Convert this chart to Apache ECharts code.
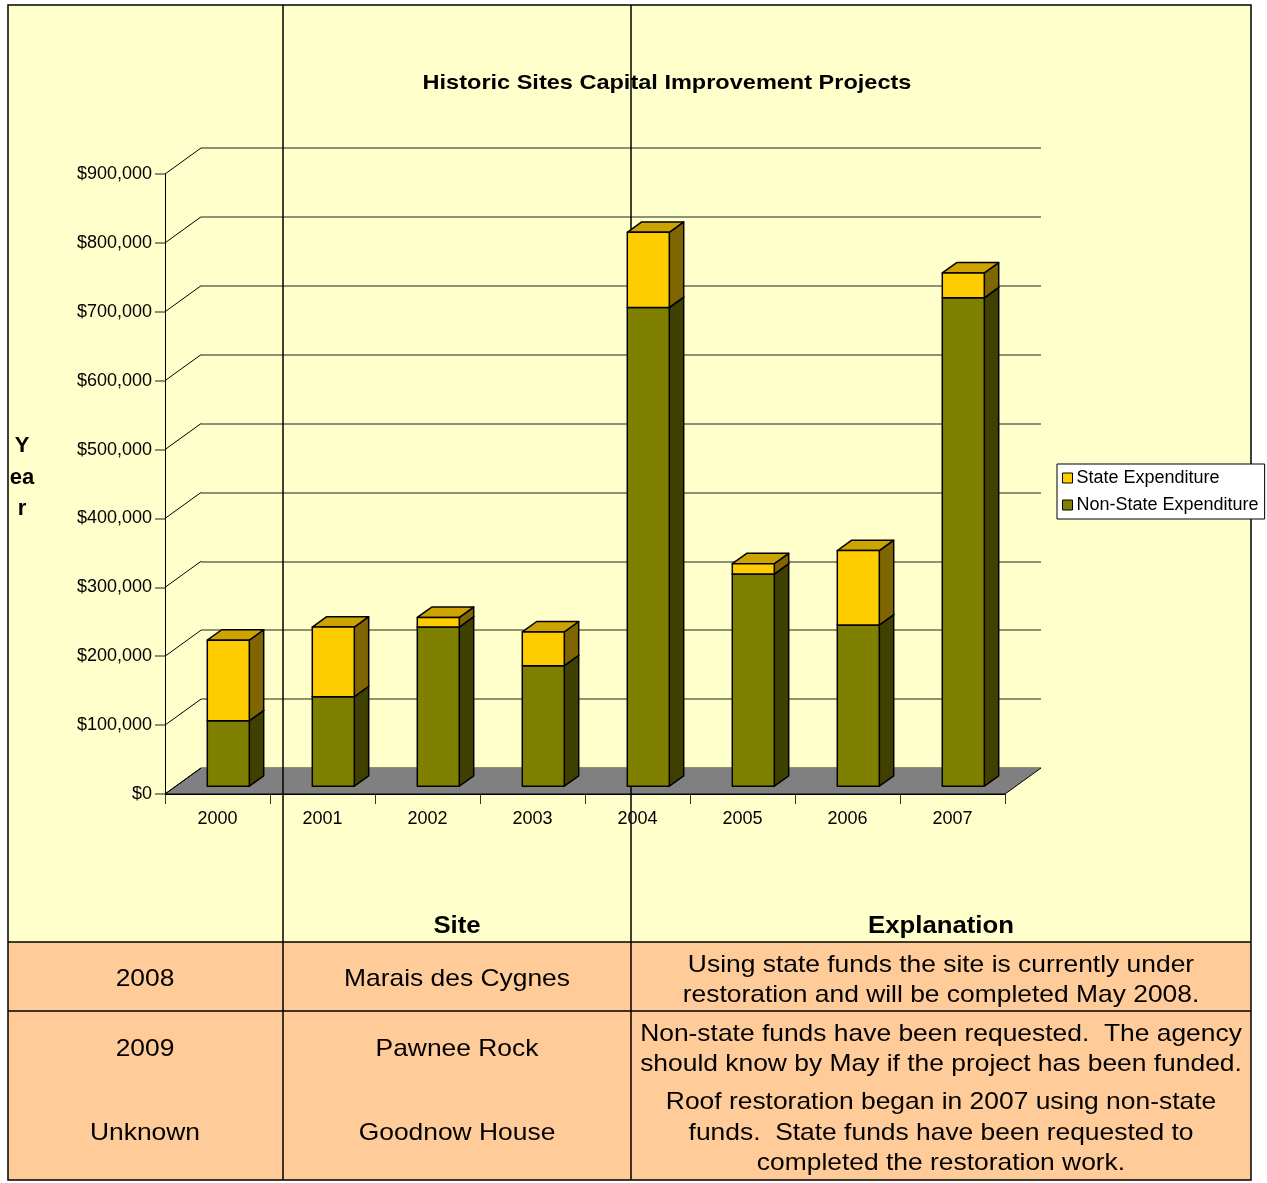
<!DOCTYPE html>
<html>
<head>
<meta charset="utf-8">
<script src="https://cdn.jsdelivr.net/npm/echarts@6/dist/echarts.min.js"></script>
<style>
  html, body { margin: 0; padding: 0; background: #fff; }
  #chart { width: 1267px; height: 1183px; }
</style>
</head>
<body>
<div id="chart"></div>
<script>
// chart data
const years = ["2000", "2001", "2002", "2003", "2004", "2005", "2006", "2007"];
const nonStateExp = [95000, 130000, 231000, 175000, 695000, 308000, 234000, 709000];
const stateExp = [117000, 101000, 14000, 49000, 109000, 15000, 108000, 36000];
const yTicks = [0, 100000, 200000, 300000, 400000, 500000, 600000, 700000, 800000, 900000];

// table below the chart
const tableHeaders = ["Site", "Explanation"];
const tableYears = ["2008", "2009", "Unknown"];
const tableSites = ["Marais des Cygnes", "Pawnee Rock", "Goodnow House"];
const tableNotes = [
  ["Using state funds the site is currently under", "restoration and will be completed May 2008."],
  ["Non-state funds have been requested.  The agency", "should know by May if the project has been funded."],
  ["Roof restoration began in 2007 using non-state", "funds.  State funds have been requested to", "completed the restoration work."],
];

const FONT = "'Liberation Sans', Arial, sans-serif";
// 3d depth of the plot (pixels) and where the bars sit in that depth
const DX = 36, DY = -26;
const D0 = 0.3, D1 = 0.7;
const BAR_RATIO = 0.4;

const chart = echarts.init(document.getElementById("chart"));

function money(v) {
  return "$" + String(v).replace(/\B(?=(\d{3})+(?!\d))/g, ",");
}

function barRender(front, top, side) {
  return function (params, api) {
    const i = api.value(0);
    const lo = api.value(1);
    const hi = api.value(2);
    const w = api.size([1, 0])[0] * BAR_RATIO;
    const b = api.coord([i, lo]);
    const t = api.coord([i, hi]);
    const dx = DX * (D1 - D0), dy = DY * (D1 - D0);
    const xl = b[0] - w / 2 + DX * D0;
    const xr = xl + w;
    const yb = b[1] + DY * D0;
    const yt = t[1] + DY * D0;
    const line = { stroke: "#000", lineWidth: 1.5, lineJoin: "round" };
    return {
      type: "group",
      children: [
        { type: "polygon", shape: { points: [[xr, yt], [xr, yb], [xr + dx, yb + dy], [xr + dx, yt + dy]] },
          style: Object.assign({ fill: side }, line) },
        { type: "polygon", shape: { points: [[xl, yt], [xr, yt], [xr + dx, yt + dy], [xl + dx, yt + dy]] },
          style: Object.assign({ fill: top }, line) },
        { type: "rect", shape: { x: xl, y: yt, width: w, height: yb - yt },
          style: Object.assign({ fill: front }, line) },
      ],
    };
  };
}

function txt(x, y, s, size, bold, sx) {
  return {
    type: "text", x: x, y: y + 2, z: 2, scaleX: sx || 1, silent: true,
    style: {
      text: s, x: 0, y: 0, fill: "#000",
      font: (bold ? "bold " : "") + size + "px " + FONT,
      textAlign: "center", align: "center",
      textVerticalAlign: "middle", verticalAlign: "middle",
    },
  };
}

function hline(x1, x2, y) {
  return { type: "line", z: 2, silent: true, shape: { x1: x1, y1: y, x2: x2, y2: y }, style: { stroke: "#000", lineWidth: 1.5 } };
}
function vline(x, y1, y2) {
  return { type: "line", z: 2, silent: true, shape: { x1: x, y1: y1, x2: x, y2: y2 }, style: { stroke: "#000", lineWidth: 1.5 } };
}

// graphic: page margins, table, title, side text
const graphics = [
  { type: "rect", z: 2, silent: true, shape: { x: 0, y: 0, width: 1267, height: 5 }, style: { fill: "#fff" } },
  { type: "rect", z: 2, silent: true, shape: { x: 0, y: 0, width: 8, height: 1183 }, style: { fill: "#fff" } },
  { type: "rect", z: 2, silent: true, shape: { x: 1251, y: 0, width: 16, height: 1183 }, style: { fill: "#fff" } },
  { type: "rect", z: 2, silent: true, shape: { x: 0, y: 1180, width: 1267, height: 3 }, style: { fill: "#fff" } },
  { type: "rect", z: 2, silent: true, shape: { x: 8, y: 942, width: 1243, height: 238 }, style: { fill: "#FFCC99" } },
  txt(667, 81, "Historic Sites Capital Improvement Projects", 21, true, 1.12),
  txt(22, 444, "Y", 22, true),
  txt(22, 476, "ea", 22, true),
  txt(22, 507, "r", 22, true),
  txt(457, 925, tableHeaders[0], 23, true, 1.12),
  txt(941, 925, tableHeaders[1], 23, true, 1.12),
];
const rowMid = [977, 1047, 1131];
const noteY = [[963, 993], [1032, 1062], [1100, 1131, 1161]];
tableYears.forEach(function (y, i) {
  graphics.push(txt(145, rowMid[i], y, 24, false, 1.1));
  graphics.push(txt(457, rowMid[i], tableSites[i], 24, false, 1.1));
  tableNotes[i].forEach(function (s, j) {
    graphics.push(txt(941, noteY[i][j], s, 24, false, 1.1));
  });
});
graphics.push(
  { type: "rect", z: 2, silent: true, shape: { x: 8, y: 5, width: 1243, height: 1175 },
    style: { fill: null, stroke: "#000", lineWidth: 1.5 } },
  vline(283, 5, 1180),
  vline(631, 5, 1180),
  hline(8, 1251, 942),
  hline(8, 1251, 1011)
);

const option = {
  backgroundColor: "#FFFFCC",
  animation: false,
  textStyle: { fontFamily: FONT },
  legend: {
    orient: "vertical",
    left: 1057,
    top: 464,
    padding: [5, 6, 5, 5],
    itemGap: 9,
    itemWidth: 10,
    itemHeight: 10,
    icon: "rect",
    selectedMode: false,
    backgroundColor: "#fff",
    borderColor: "#000",
    borderWidth: 1,
    itemStyle: { borderColor: "#000", borderWidth: 1 },
    textStyle: { fontSize: 18, color: "#000", fontFamily: FONT, padding: [0, 0, 0, -1] },
    data: ["State Expenditure", "Non-State Expenditure"],
  },
  grid: [
    { left: 165, right: 262, top: 174, bottom: 389 },
    { left: 201, right: 226, top: 148, bottom: 415 },
  ],
  xAxis: [
    {
      type: "category", gridIndex: 0, data: years,
      axisLine: { lineStyle: { color: "#000", width: 1 } },
      axisTick: { show: true, length: 10, interval: 0, lineStyle: { color: "#333" } },
      axisLabel: { fontSize: 18, color: "#000", margin: 16, fontFamily: FONT },
      splitLine: { show: false },
    },
    {
      type: "category", gridIndex: 1, data: years, show: false,
    },
  ],
  yAxis: [
    {
      type: "value", gridIndex: 0, min: 0, max: 900000, interval: 100000,
      axisLine: { show: true, lineStyle: { color: "#000", width: 1 } },
      axisTick: { show: true, length: 10, lineStyle: { color: "#6b6b55", width: 1.5 } },
      axisLabel: { fontSize: 18, color: "#000", margin: 13, fontFamily: FONT, formatter: money },
      splitLine: { show: false },
    },
    {
      type: "value", gridIndex: 1, min: 0, max: 900000, interval: 100000,
      axisLine: { show: false }, axisTick: { show: false }, axisLabel: { show: false },
      splitLine: { show: true, lineStyle: { color: "#6b6b55", width: 1.5 } },
    },
  ],
  series: [
    {
      // floor of the plot
      type: "custom", name: "floor", z: 1, silent: true,
      xAxisIndex: 0, yAxisIndex: 0,
      data: [[0, 0]],
      renderItem: function (params, api) {
        const cs = params.coordSys;
        const y0 = api.coord([0, 0])[1];
        const x0 = cs.x, x1 = cs.x + cs.width;
        return {
          type: "group",
          children: [
            { type: "polygon", shape: { points: [[x0, y0], [x1, y0], [x1 + DX, y0 + DY], [x0 + DX, y0 + DY]] },
              style: { fill: "#808080" } },
            { type: "polyline", shape: { points: [[x0 + DX, y0 + DY], [x0, y0], [x1, y0], [x1 + DX, y0 + DY]] },
              style: { fill: null, stroke: "#000", lineWidth: 1 } },
          ],
        };
      },
    },
    {
      // diagonals joining the front axis to the back wall
      type: "custom", name: "walls", z: 1, silent: true,
      xAxisIndex: 0, yAxisIndex: 0,
      data: yTicks.map(function (v) { return [0, v]; }),
      renderItem: function (params, api) {
        const x0 = params.coordSys.x;
        const y = api.coord([0, api.value(1)])[1];
        return { type: "line", shape: { x1: x0, y1: y, x2: x0 + DX, y2: y + DY },
          style: { stroke: "#000", lineWidth: 1 } };
      },
    },
    {
      type: "custom", name: "Non-State Expenditure", z: 3,
      xAxisIndex: 0, yAxisIndex: 0,
      itemStyle: { color: "#808000" },
      data: nonStateExp.map(function (v, i) { return [i, 0, v]; }),
      renderItem: barRender("#808000", "#666600", "#404000"),
    },
    {
      type: "custom", name: "State Expenditure", z: 3,
      xAxisIndex: 0, yAxisIndex: 0,
      itemStyle: { color: "#FFCC00" },
      data: stateExp.map(function (v, i) { return [i, nonStateExp[i], nonStateExp[i] + v]; }),
      renderItem: barRender("#FFCC00", "#CCA300", "#806600"),
    },
  ],
  graphic: { elements: graphics },
};

chart.setOption(option);
</script>
</body>
</html>
